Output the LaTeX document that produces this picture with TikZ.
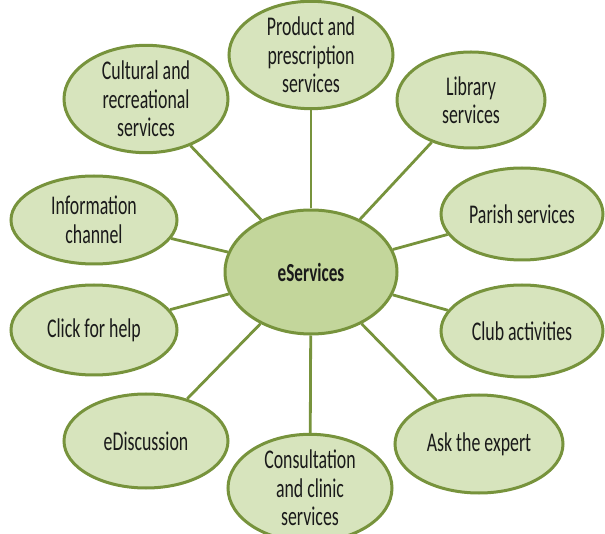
\documentclass[tikz,border=0pt]{standalone}
\usepackage{fontspec}
\setmainfont[FakeStretch=0.66]{Carlito}
\usetikzlibrary{shapes.geometric}
\definecolor{bord}{HTML}{77933C}
\definecolor{outfill}{HTML}{D7E4BD}
\definecolor{cenfill}{HTML}{C3D69B}
\definecolor{txt}{HTML}{1A1A1A}
\tikzset{
  bub/.style={ellipse, draw=bord, line width=3pt, fill=outfill, inner sep=0pt,
    align=center, text=txt, font=\fontsize{27}{28.5}\selectfont},
  hub/.style={ellipse, draw=bord, line width=3pt, fill=cenfill, inner sep=0pt,
    align=center, text=txt, font=\fontsize{26}{28.5}\selectfont\bfseries,
    minimum width=172pt, minimum height=124pt},
  link/.style={draw=bord, line width=2.8pt}
}
\begin{document}
\begin{tikzpicture}[x=1pt,y=-1pt]
\useasboundingbox (0,0) rectangle (605,534);
\node[hub] (c) at (311,272) {eServices};
\node[bub, minimum width=164pt, minimum height=92pt] (prod) at (311,55) {Product and\\prescription\\services};
\node[bub, minimum width=164pt, minimum height=94pt] (cult) at (146,99) {Cultural and\\recreational\\services};
\node[bub, minimum width=148pt, minimum height=96pt] (lib) at (471,100) {Library\\services};
\node[bub, minimum width=166pt, minimum height=88pt] (info) at (94,220) {Information\\channel};
\node[bub, minimum width=162pt, minimum height=92pt] (par) at (522,214) {Parish services};
\node[bub, minimum width=166pt, minimum height=90pt] (click) at (94,330) {Click for help};
\node[bub, minimum width=162pt, minimum height=92pt] (club) at (522,331) {Club activities};
\node[bub, minimum width=164pt, minimum height=94pt] (edis) at (146,441) {eDiscussion};
\node[bub, minimum width=168pt, minimum height=98pt] (ask) at (479,444) {Ask the expert};
\node[bub, minimum width=164pt, minimum height=92pt] (cons) at (310,488) {Consultation\\and clinic\\services};
\foreach \n in {prod,cult,lib,info,par,click,club,edis,ask,cons}
  \draw[link] (c) -- (\n);
\end{tikzpicture}
\end{document}
